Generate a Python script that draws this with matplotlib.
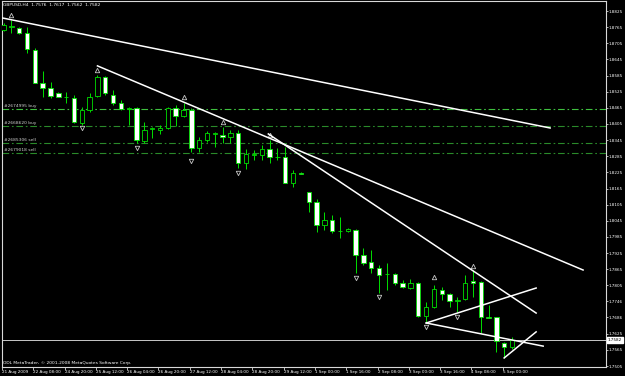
import numpy as np
import matplotlib
matplotlib.use('Agg')
import matplotlib.pyplot as plt
import matplotlib.transforms as mtransforms

# GBPUSD H4 candles (prices)
opens = [1.8754, 1.8766, 1.8762, 1.8743, 1.8680, 1.8557, 1.8539, 1.8520, 1.8505, 1.8502,
         1.8409, 1.8457, 1.8509, 1.8580, 1.8513, 1.8483, 1.8461, 1.8464, 1.8342, 1.8386,
         1.8383, 1.8390, 1.8464, 1.8435, 1.8457, 1.8316, 1.8345, 1.8368, 1.8364, 1.8357,
         1.8371, 1.8260, 1.8290, 1.8290, 1.8312, 1.8282, 1.8282, 1.8186, 1.8223, 1.8152,
         1.8115, 1.8029, 1.8048, 1.8007, 1.8007, 1.8011, 1.7918, 1.7892, 1.7870, 1.7847,
         1.7847, 1.7814, 1.7795, 1.7814, 1.7691, 1.7725, 1.7788, 1.7773, 1.7747, 1.7754,
         1.7821, 1.7818, 1.7687, 1.7687, 1.7591, 1.7576]
highs = [1.8780, 1.8792, 1.8766, 1.8766, 1.8688, 1.8602, 1.8561, 1.8524, 1.8524, 1.8513,
         1.8468, 1.8520, 1.8587, 1.8584, 1.8531, 1.8494, 1.8468, 1.8468, 1.8412, 1.8394,
         1.8401, 1.8468, 1.8476, 1.8483, 1.8464, 1.8357, 1.8379, 1.8375, 1.8394, 1.8383,
         1.8383, 1.8312, 1.8308, 1.8327, 1.8345, 1.8316, 1.8319, 1.8234, 1.8225, 1.8152,
         1.8126, 1.8078, 1.8067, 1.8059, 1.8018, 1.8015, 1.7944, 1.7936, 1.7881, 1.7888,
         1.7851, 1.7825, 1.7829, 1.7818, 1.7743, 1.7806, 1.7799, 1.7776, 1.7762, 1.7844,
         1.7862, 1.7821, 1.7732, 1.7687, 1.7594, 1.7613]
lows = [1.8751, 1.8743, 1.8740, 1.8669, 1.8557, 1.8505, 1.8502, 1.8505, 1.8483, 1.8409,
        1.8401, 1.8450, 1.8505, 1.8513, 1.8476, 1.8457, 1.8401, 1.8334, 1.8334, 1.8353,
        1.8368, 1.8386, 1.8397, 1.8431, 1.8301, 1.8301, 1.8338, 1.8319, 1.8334, 1.8334,
        1.8241, 1.8238, 1.8271, 1.8271, 1.8260, 1.8271, 1.8186, 1.8171, 1.8218, 1.8078,
        1.8003, 1.8011, 1.8000, 1.7981, 1.8003, 1.7851, 1.7881, 1.7851, 1.7777, 1.7788,
        1.7806, 1.7795, 1.7791, 1.7687, 1.7665, 1.7721, 1.7751, 1.7725, 1.7706, 1.7751,
        1.7762, 1.7628, 1.7682, 1.7557, 1.7535, 1.7568]
closes = [1.8773, 1.8769, 1.8743, 1.8684, 1.8557, 1.8539, 1.8509, 1.8505, 1.8504, 1.8412,
          1.8457, 1.8505, 1.8580, 1.8520, 1.8483, 1.8461, 1.8464, 1.8345, 1.8383, 1.8390,
          1.8390, 1.8464, 1.8435, 1.8457, 1.8316, 1.8345, 1.8371, 1.8371, 1.8357, 1.8371,
          1.8260, 1.8293, 1.8293, 1.8312, 1.8282, 1.8281, 1.8186, 1.8223, 1.8219, 1.8115,
          1.8029, 1.8048, 1.8007, 1.8006, 1.8015, 1.7918, 1.7888, 1.7870, 1.7843, 1.7846,
          1.7814, 1.7799, 1.7814, 1.7691, 1.7725, 1.7791, 1.7773, 1.7747, 1.7751, 1.7814,
          1.7814, 1.7687, 1.7684, 1.7598, 1.7576, 1.7602]

# fractal arrows (bar index, price)
frac_up_x = [1, 12, 23, 28, 34, 55, 60]
frac_up_y = [1.8810, 1.8606, 1.8505, 1.8412, 1.8364, 1.7836, 1.7877]
frac_dn_x = [10, 17, 24, 30, 45, 48, 54, 58]
frac_dn_y = [1.8390, 1.8316, 1.8267, 1.8223, 1.7832, 1.7762, 1.7650, 1.7687]

# trend lines: (x1, y1, x2, y2)
trend_lines = [(-0.13, 1.8799, 69.86, 1.8390),
               (12.0, 1.8621, 74.07, 1.7862),
               (33.84, 1.8368, 68.07, 1.7702),
               (54.02, 1.7665, 68.07, 1.7795),
               (54.02, 1.7665, 68.97, 1.7579),
               (63.98, 1.7535, 68.07, 1.7632)]

# open orders
order_prices = [1.8461, 1.8398, 1.8334, 1.8297]
order_labels = ['#2674995 buy', '#2668620 buy', '#2685306 sell', '#2679018 sell']

y_ticks = [1.8825, 1.8765, 1.8705, 1.8645, 1.8585, 1.8525, 1.8465, 1.8405, 1.8345, 1.8285,
           1.8225, 1.8165, 1.8105, 1.8045, 1.7985, 1.7925, 1.7865, 1.7805, 1.7746, 1.7686,
           1.7625, 1.7565, 1.7505]
x_labels = ['21 Aug 2009', '22 Aug 08:00', '24 Aug 20:00', '25 Aug 12:00', '26 Aug 04:00',
            '26 Aug 20:00', '27 Aug 12:00', '28 Aug 04:00', '28 Aug 20:00', '29 Aug 12:00',
            '1 Sep 00:00', '1 Sep 16:00', '2 Sep 08:00', '3 Sep 00:00', '3 Sep 16:00',
            '4 Sep 08:00', '5 Sep 00:00']

header = 'GBPUSD,H4  1.7576  1.7617  1.7562  1.7582'
footer = 'ODL MetaTrader, \u00a9 2001-2008 MetaQuotes Software Corp.'
price_box = '1.7582'

GREEN = '#00e000'
GREY = '#c8c8c8'

fig = plt.figure(figsize=(6.25, 3.76), dpi=100, facecolor='black')
ax = fig.add_axes([2 / 625, 9 / 376, 604 / 625, 366 / 376], facecolor='black')

o = np.array(opens)
c = np.array(closes)
x = np.arange(len(o))
up = c > o
blend = mtransforms.blended_transform_factory(ax.transAxes, ax.transData)

# order lines
for i, (p, lab) in enumerate(zip(order_prices, order_labels)):
    col = '#3fc03f' if i == 0 else '#2a8a2a'
    ax.axhline(p, color=col, lw=0.8, ls=(0, (6, 2.5, 1.5, 2.5)), zorder=1)
    ax.text(0.003, p + 0.0003, lab, transform=blend,
            color='#d0d0d0', fontsize=3.2, va='bottom', ha='left')

# candles
ax.vlines(x, lows, highs, color=GREEN, lw=0.7, zorder=2)
ax.bar(x, np.abs(c - o), bottom=np.minimum(o, c), width=0.56,
       color=np.where(up, 'black', 'white'), edgecolor=GREEN, linewidth=0.6, zorder=3)

# fractals
ax.plot(frac_up_x, frac_up_y, ls='none', marker='^', ms=3.2, mfc='none', mec=GREY, mew=0.6, zorder=4)
ax.plot(frac_dn_x, frac_dn_y, ls='none', marker='v', ms=3.2, mfc='none', mec=GREY, mew=0.6, zorder=4)

# trend lines
for x1, y1, x2, y2 in trend_lines:
    ax.plot([x1, x2], [y1, y2], color='white', lw=1.1, zorder=5)

# current price line and box
ax.axhline(closes[-1], color=GREY, lw=0.7, zorder=1)
ax.text(1.003, closes[-1], price_box, transform=blend,
        fontsize=3.0, color='black', va='center', ha='left', clip_on=False, zorder=10,
        bbox=dict(boxstyle='square,pad=0.2', fc='white', ec='white'))

ax.text(0.002, 0.989, header, transform=ax.transAxes, color='white', fontsize=3.2, va='center', ha='left')
ax.text(0.002, 0.011, footer, transform=ax.transAxes, color='white', fontsize=3.2, va='center', ha='left')

ax.set_xlim(-0.13, 77.0)
ax.set_ylim(1.75014, 1.88622)

ax.yaxis.tick_right()
ax.set_yticks(y_ticks)
ax.set_yticklabels(['%.4f' % v for v in y_ticks])
ax.tick_params(axis='y', colors='white', labelsize=3.0, length=1.5, width=0.5, pad=0.6)

ax.set_xticks(np.arange(len(x_labels)) * 4 - 0.2)
ax.set_xticklabels(x_labels)
for lab in ax.get_xticklabels():
    lab.set_ha('left')
ax.tick_params(axis='x', colors='white', labelsize=3.0, length=2, width=0.5, pad=0.5)

for s in ax.spines.values():
    s.set_color('#d8d8d8')
    s.set_linewidth(0.8)

fig.savefig('out.png', dpi=100, facecolor='black')
